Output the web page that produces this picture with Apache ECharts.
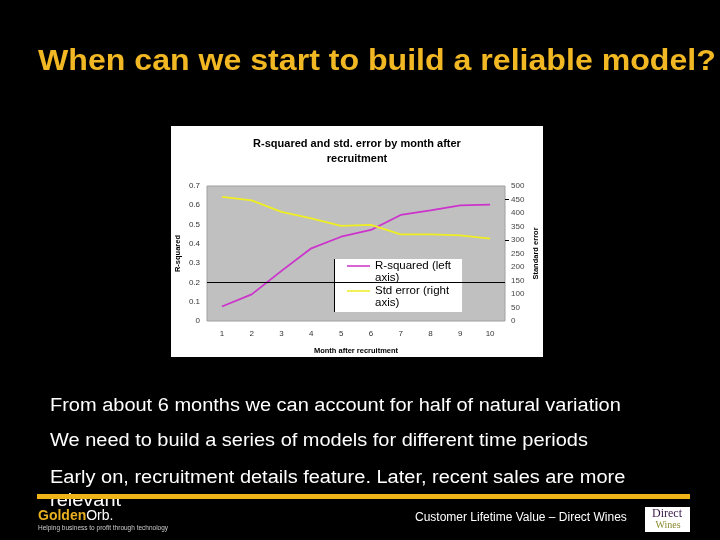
<!DOCTYPE html>
<html><head><meta charset="utf-8">
<script src="https://cdn.jsdelivr.net/npm/echarts@6/dist/echarts.min.js"></script>
<style>html,body{margin:0;padding:0;background:#000;}#c{width:720px;height:540px;}</style>
</head><body><div id="c"></div>
<script>
const months = ['1','2','3','4','5','6','7','8','9','10'];
const rSquared = [0.075, 0.138, 0.26, 0.377, 0.437, 0.472, 0.55, 0.574, 0.6, 0.603];
const stdError = [460, 447, 404, 380, 352, 356, 321, 321, 317, 305];
const leftTicks = {min: 0, max: 0.7, interval: 0.1};
const rightTicks = {min: 0, max: 500, interval: 50};
const refLine = 0.2;
const slideTitle = 'When can we start to build a reliable model?';
const chartTitle = 'R-squared and std. error by month after\nrecruitment';
const bullets = [
  'From about 6 months we can account for half of natural variation',
  'We need to build a series of models for different time periods',
  'Early on, recruitment details feature. Later, recent sales are more',
  'relevant'
];
const footer = 'Customer Lifetime Value \u2013 Direct Wines';

const chart = echarts.init(document.getElementById('c'), null, {renderer: 'canvas'});
const F = 'Liberation Sans, Arial, sans-serif';
const bulletY = [406, 441, 478, 501];

const graphics = [
  {type: 'text', x: 38, y: 62, z: 5, scaleX: 1.07, style: {text: slideTitle, fill: '#F2B824', font: 'bold 30px ' + F, verticalAlign: 'middle'}},
  {type: 'rect', shape: {x: 171, y: 126, width: 372, height: 231}, z: -10, style: {fill: '#fff'}},
  {type: 'text', x: 357, y: 136, z: 5, style: {text: chartTitle, fill: '#000', font: 'bold 11px ' + F, align: 'center', verticalAlign: 'top', lineHeight: 15}},
  {type: 'line', shape: {x1: 334.5, y1: 259, x2: 334.5, y2: 312}, z: 10, style: {stroke: '#000', lineWidth: 1}},
  {type: 'rect', shape: {x: 37, y: 494, width: 653, height: 5}, z: 20, style: {fill: '#F0B418'}},
  {type: 'text', x: 38, y: 516, z: 5, style: {text: '{g|Golden}{w|Orb.}', verticalAlign: 'middle', rich: {g: {fill: '#E8B020', font: 'bold 14px ' + F}, w: {fill: '#fff', font: '14px ' + F}}}},
  {type: 'text', x: 38, y: 528, z: 5, style: {text: 'Helping business to profit through technology', fill: '#ccc', font: '6.5px ' + F, verticalAlign: 'middle'}},
  {type: 'text', x: 415, y: 518, z: 5, style: {text: footer, fill: '#fff', font: '12px ' + F, verticalAlign: 'middle'}},
  {type: 'rect', shape: {x: 645, y: 507, width: 45, height: 25}, z: 5, style: {fill: '#fff'}},
  {type: 'text', x: 667, y: 514, z: 6, style: {text: 'Direct', fill: '#3a1848', font: '12px Liberation Serif, serif', align: 'center', verticalAlign: 'middle'}},
  {type: 'text', x: 668, y: 525, z: 6, style: {text: 'Wines', fill: '#8a8a30', font: '10px Liberation Serif, serif', align: 'center', verticalAlign: 'middle'}}
];
bullets.forEach((t, i) => graphics.push({type: 'text', x: 50, y: bulletY[i], z: 5, scaleX: 1.11, style: {text: t, fill: '#fff', font: '18px ' + F, verticalAlign: 'middle'}}));

const legendIcon = 'path://M0,0H0.01V0.01H0Z M0,5.3H23V6.7H0Z M0,23.99H0.01V24H0Z';

chart.setOption({
  backgroundColor: '#000',
  animation: false,
  graphic: graphics,
  grid: {left: 207, right: 215, top: 186, bottom: 219, show: true, backgroundColor: '#c0c0c0', borderColor: '#a0a0a0', borderWidth: 1},
  xAxis: {
    type: 'category', data: months, boundaryGap: true,
    axisLine: {show: false}, axisTick: {show: false},
    axisLabel: {color: '#333', fontSize: 8, fontFamily: F, margin: 9},
    name: 'Month after recruitment', nameLocation: 'middle', nameGap: 26,
    nameTextStyle: {color: '#000', fontSize: 7.5, fontWeight: 'bold', fontFamily: F}
  },
  yAxis: [
    {type: 'value', min: leftTicks.min, max: leftTicks.max, interval: leftTicks.interval,
     splitLine: {show: false}, axisLine: {show: false}, axisTick: {show: false},
     axisLabel: {color: '#333', fontSize: 8, fontFamily: F, margin: 7},
     name: 'R-squared', nameLocation: 'middle', nameRotate: 90, nameGap: 25,
     nameTextStyle: {color: '#000', fontSize: 7.5, fontWeight: 'bold', fontFamily: F}},
    {type: 'value', min: rightTicks.min, max: rightTicks.max, interval: rightTicks.interval,
     splitLine: {show: false}, axisLine: {show: false},
     axisTick: {show: true, customValues: [300, 450], length: 4, inside: false, lineStyle: {color: '#000'}},
     axisLabel: {color: '#444', fontSize: 8, fontFamily: F, margin: 6},
     name: 'Standard error', nameLocation: 'middle', nameRotate: 90, nameGap: 27,
     nameTextStyle: {color: '#000', fontSize: 7.5, fontWeight: 'bold', fontFamily: F}}
  ],
  legend: {
    orient: 'vertical', left: 334, top: 259,
    backgroundColor: '#fff', padding: [1, 11, 3, 13], itemGap: 1,
    itemWidth: 23, itemHeight: 24, icon: legendIcon,
    formatter: n => n === 'R-squared (left axis)' ? 'R-squared (left\naxis)' : 'Std error (right\naxis)',
    textStyle: {color: '#000', fontSize: 11.5, fontFamily: F, lineHeight: 12}
  },
  series: [
    {name: 'R-squared (left axis)', type: 'line', yAxisIndex: 0, data: rSquared, symbol: 'none',
     lineStyle: {color: '#CC33CC', width: 1.8}, itemStyle: {color: '#CC33CC'},
     markLine: {silent: true, symbol: 'none', label: {show: false}, lineStyle: {color: '#000', type: 'solid', width: 1}, data: [{yAxis: refLine}]}},
    {name: 'Std error (right axis)', type: 'line', yAxisIndex: 1, data: stdError, symbol: 'none',
     lineStyle: {color: '#EEEE22', width: 1.8}, itemStyle: {color: '#EEEE22'}}
  ]
});
</script></body></html>
